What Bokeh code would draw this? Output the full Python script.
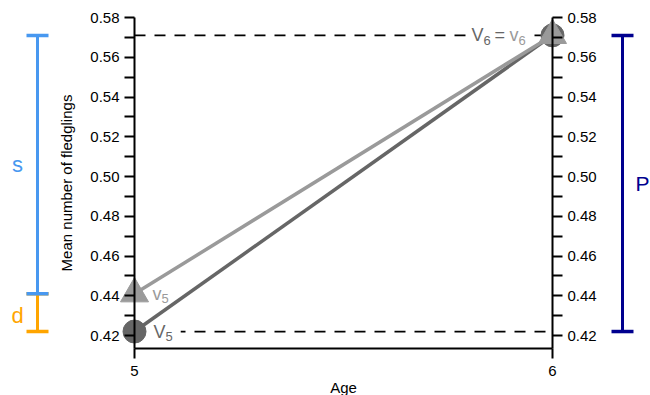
from bokeh.plotting import figure
from bokeh.models import FixedTicker, LinearAxis, Whisker, TeeHead, PrintfTickFormatter
from bokeh.core.properties import value
from bokeh.embed import file_html
from bokeh.resources import INLINE

# ---- data ----
ages = [5, 6]
V = [0.422, 0.571]          # dark series (circles)
v = [0.441, 0.571]          # light series (triangles)
y_ticks = [0.42, 0.44, 0.46, 0.48, 0.50, 0.52, 0.54, 0.56, 0.58]
y_minor = [0.43, 0.45, 0.47, 0.49, 0.51, 0.53, 0.55, 0.57]
x_label = "Age"
y_label = "Mean number of fledglings"

# ---- layout (pixels, figure coords) ----
W, H = 650, 395
X5_PX, X6_PX = 134, 552
TOP_TICK_PX = 17            # pixel row of the top tick
PX_PER_Y = 318 / 0.16
PX_PER_X = (X6_PX - X5_PX) / (ages[1] - ages[0])
y_top_tick = y_ticks[-1]
y_end = y_top_tick + TOP_TICK_PX / PX_PER_Y
y_bottom_axis = y_top_tick - 331 / PX_PER_Y
x_start = ages[0] - X5_PX / PX_PER_X
x_end = x_start + W / PX_PER_X
y_start = y_end - H / PX_PER_Y

FONT = value("Liberation Sans")
DARK = "#666666"
LIGHT = "#9a9a9a"
BLUE = "#4898F0"
ORANGE = "#FFA500"
NAVY = "#00008F"

p = figure(width=W, height=H, x_range=(x_start, x_end), y_range=(y_start, y_end),
           output_backend="svg", toolbar_location=None,
           x_axis_location=None, y_axis_location=None,
           min_border_left=0, min_border_right=0, min_border_top=0, min_border_bottom=0)
p.outline_line_color = None
p.xgrid.visible = False
p.ygrid.visible = False


def style_axis(ax):
    ax.axis_line_width = 2
    ax.major_tick_line_width = 2
    ax.minor_tick_line_width = 2
    ax.major_tick_in = 0
    ax.major_tick_out = 10
    ax.minor_tick_in = 0
    ax.minor_tick_out = 10
    ax.major_label_text_font = "Liberation Sans"
    ax.major_label_text_font_size = "15px"
    ax.major_label_text_color = "black"
    ax.axis_label_text_font = "Liberation Sans"
    ax.axis_label_text_font_size = "15px"
    ax.axis_label_text_font_style = "normal"
    ax.axis_label_text_color = "black"


xaxis = LinearAxis(fixed_location=y_bottom_axis, bounds=(ages[0], ages[1]),
                   ticker=FixedTicker(ticks=ages, minor_ticks=[]), axis_label=x_label)
style_axis(xaxis)
xaxis.major_label_standoff = 7
xaxis.axis_label_standoff = 0
p.add_layout(xaxis, "below")

yl = LinearAxis(fixed_location=ages[0], bounds=(y_bottom_axis, y_top_tick),
                ticker=FixedTicker(ticks=y_ticks, minor_ticks=y_minor),
                formatter=PrintfTickFormatter(format="%.2f"), axis_label=y_label)
style_axis(yl)
yl.major_label_standoff = 5
yl.axis_label_standoff = 12
p.add_layout(yl, "left")

yr = LinearAxis(fixed_location=ages[1], bounds=(y_bottom_axis, y_top_tick),
                ticker=FixedTicker(ticks=y_ticks, minor_ticks=y_minor),
                formatter=PrintfTickFormatter(format="%.2f"))
style_axis(yr)
yr.major_label_standoff = 5
p.add_layout(yr, "right")

# dashed reference lines
p.segment(x0=[ages[0], ages[0]], y0=[V[1], V[0]], x1=[ages[1], ages[1]], y1=[V[1], V[0]],
          line_color="black", line_width=1.8, line_dash="11 9")

# point labels: (x, y, text, x_offset, y_offset, size, color)
pieces = [
    (ages[0], V[0], "V", 19, 0, "18px", DARK),
    (ages[0], V[0], "5", 31, 5, "13px", DARK),
    (ages[0], v[0], "v", 18, 0, "18px", LIGHT),
    (ages[0], v[0], "5", 27, 5, "13px", LIGHT),
    (ages[1], V[1], "V", -81, 0, "18px", DARK),
    (ages[1], V[1], "6", -69, 5, "13px", DARK),
    (ages[1], V[1], "=", -58, 0, "18px", DARK),
    (ages[1], V[1], "v", -43, 0, "18px", LIGHT),
    (ages[1], V[1], "6", -34, 5, "13px", LIGHT),
]
# white covers behind the labels (hide the dashes)
for (x, y, t, xo, yo, fs, c) in pieces:
    p.text(x=[x], y=[y], text=[t], x_offset=xo, y_offset=yo, text_align="left",
           text_baseline="middle", text_font=FONT, text_font_size=value(fs),
           text_color="white", background_fill_color="white", padding=4)
for (x, y, t, xo, yo, fs, c) in pieces:
    p.text(x=[x], y=[y], text=[t], x_offset=xo, y_offset=yo, text_align="left",
           text_baseline="middle", text_font=FONT, text_font_size=value(fs),
           text_color=c)

# lines and markers
p.line(ages, V, line_color=DARK, line_width=3.5)
p.line(ages, v, line_color=LIGHT, line_width=3.5)
p.scatter(ages, V, marker="circle", size=23, fill_color=DARK, line_color=DARK)
p.scatter(ages, v, marker="triangle", size=28, fill_color=LIGHT, line_color=LIGHT)

# brackets outside the axes
bx_left = ages[0] - 97 / PX_PER_X
bx_right = ages[1] + 70 / PX_PER_X


def bracket(base, lo, hi, color):
    p.add_layout(Whisker(base=base, lower=lo, upper=hi, dimension="height",
                         line_color=color, line_width=3,
                         lower_head=TeeHead(size=22, line_color=color, line_width=3.5),
                         upper_head=TeeHead(size=22, line_color=color, line_width=3.5)))


bracket(bx_left, V[0], v[0], ORANGE)
bracket(bx_left, v[0], V[1], BLUE)
bracket(bx_right, V[0], V[1], NAVY)

big = dict(text_font=FONT, text_baseline="middle", text_align="center")
p.text(x=[ages[0]], y=[(v[0] + V[1]) / 2], text=["s"], x_offset=-117,
       text_color=BLUE, text_font_size=value("22px"), **big)
p.text(x=[ages[0]], y=[(V[0] + v[0]) / 2], text=["d"], x_offset=-117, y_offset=3,
       text_color=ORANGE, text_font_size=value("22px"), **big)
p.text(x=[ages[1]], y=[(V[0] + V[1]) / 2], text=["P"], x_offset=90,
       text_color=NAVY, text_font_size=value("21px"), **big)

open("out.html", "w").write(file_html(p, INLINE))
